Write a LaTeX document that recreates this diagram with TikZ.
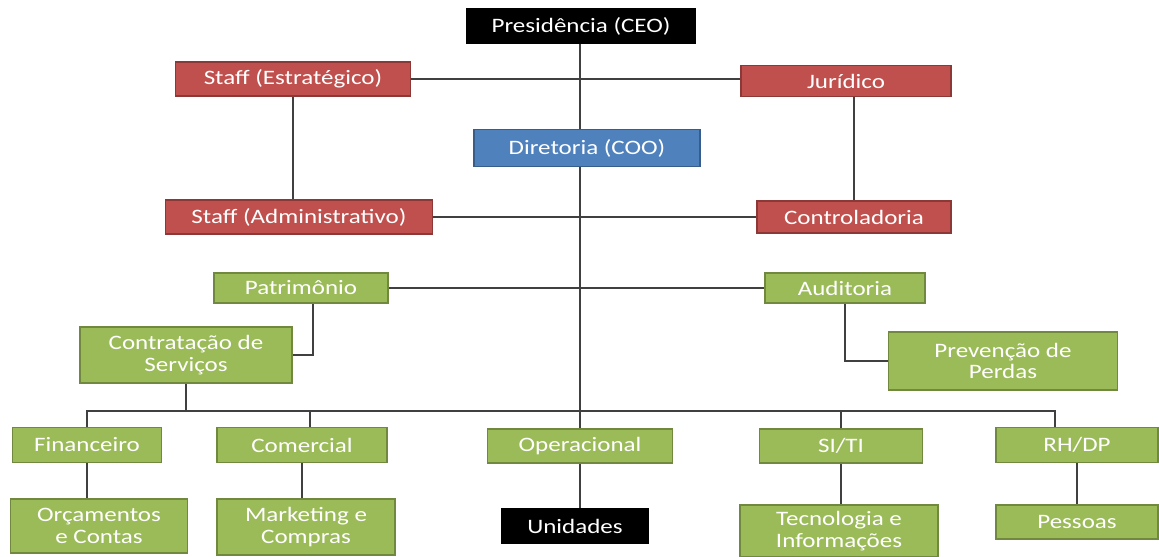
\documentclass[tikz,border=0pt]{standalone}
\usepackage{fontspec}
\setmainfont{Carlito}[FakeStretch=1.22]
\usepackage{tikz}
\usetikzlibrary{positioning, calc}
\usepackage{xcolor}
\definecolor{topcolor}{RGB}{0,0,0}
\definecolor{staffcolor}{RGB}{192,80,77}
\definecolor{staffline}{RGB}{140,56,54}
\definecolor{dircolor}{RGB}{79,129,189}
\definecolor{dirline}{RGB}{56,93,138}
\definecolor{unitcolor}{RGB}{155,187,89}
\definecolor{unitline}{RGB}{113,137,63}
\definecolor{linkcolor}{RGB}{64,64,64}

\begin{document}
\begin{tikzpicture}[x=0.03cm, y=-0.03cm,
    box/.style={rectangle, line width=1.4pt, align=center, text=white, inner sep=1pt, font=\fontsize{17.5}{18.5}\selectfont},
    black box/.style={box, fill=topcolor, draw=topcolor},
    red box/.style={box, fill=staffcolor, draw=staffline},
    blue box/.style={box, fill=dircolor, draw=dirline},
    green box/.style={box, fill=unitcolor, draw=unitline},
    link/.style={draw=linkcolor, line width=1.2pt}
]
\useasboundingbox (0,0) rectangle (1159,556);

\node[black box, minimum width=6.84cm, minimum height=1.02cm] (ceo) at (581,26) {Presidência (CEO)};
\node[red box, minimum width=7.05cm, minimum height=1.02cm] (staffE) at (293,79) {Staff (Estratégico)};
\node[red box, minimum width=6.3cm, minimum height=0.93cm] (jur) at (846,81) {Jurídico};
\node[blue box, minimum width=6.78cm, minimum height=1.11cm] (coo) at (587,148) {Diretoria (COO)};
\node[red box, minimum width=8.01cm, minimum height=1.02cm] (staffA) at (299,217) {Staff (Administrativo)};
\node[red box, minimum width=5.82cm, minimum height=0.96cm] (ctrl) at (854,217) {Controladoria};

\node[green box, minimum width=5.22cm, minimum height=0.9cm] (patr) at (301,288) {Patrimônio};
\node[green box, minimum width=4.8cm, minimum height=0.9cm] (aud) at (845,288) {Auditoria};
\node[green box, minimum width=6.36cm, minimum height=1.68cm] (contr) at (186,355) {Contratação de\\Serviços};
\node[green box, minimum width=6.87cm, minimum height=1.74cm] (prev) at (1003,361) {Prevenção de\\Perdas};

\node[green box, minimum width=4.47cm, minimum height=1.05cm] (fin) at (87,445) {Financeiro};
\node[green box, minimum width=5.1cm, minimum height=1.05cm] (com) at (302,445) {Comercial};
\node[green box, minimum width=5.55cm, minimum height=1.02cm] (oper) at (580,446) {Operacional};
\node[green box, minimum width=4.89cm, minimum height=1.02cm] (siti) at (841,446) {SI/TI};
\node[green box, minimum width=4.86cm, minimum height=1.05cm] (rhdp) at (1077,445) {RH/DP};

\node[green box, minimum width=5.31cm, minimum height=1.62cm] (orc) at (99,526) {Orçamentos\\e Contas};
\node[green box, minimum width=5.34cm, minimum height=1.68cm] (mkt) at (306,527) {Marketing e\\Compras};
\node[black box, minimum width=4.41cm, minimum height=1.02cm] (unid) at (575,526) {Unidades};
\node[green box, minimum width=5.94cm, minimum height=1.56cm] (tec) at (839,531) {Tecnologia e\\Informações};
\node[green box, minimum width=4.86cm, minimum height=1.02cm] (pes) at (1077,522) {Pessoas};

\coordinate (bus) at (0,411);

\draw[link] (oper.north |- ceo.south) -- (oper.north |- coo.north);
\draw[link] (staffE.east) -- (staffE.east -| jur.west);
\draw[link] (staffE.south) -- (staffE.south |- staffA.north);
\draw[link] (ctrl.north |- jur.south) -- (ctrl.north);
\draw[link] (staffA.east) -- (ctrl.west);
\draw[link] (oper.north |- coo.south) -- (oper.north);
\draw[link] (patr.east) -- (aud.west);
\draw[link] ([xshift=0.36cm]patr.south) |- (contr.east);
\draw[link] (aud.south) |- (prev.west);
\draw[link] (contr.south) -- (contr.south |- bus);
\draw[link] (fin.north) |- ([xshift=-0.66cm]bus -| rhdp.north) -- ([xshift=-0.66cm]rhdp.north);
\draw[link] ([xshift=0.24cm]com.north) -- ([xshift=0.24cm]com.north |- bus);
\draw[link] (siti.north) -- (siti.north |- bus);
\draw[link] (fin.south) -- (fin.south |- orc.north);
\draw[link] (com.south) -- (com.south |- mkt.north);
\draw[link] (oper.south) -- (oper.south |- unid.north);
\draw[link] (siti.south) -- (siti.south |- tec.north);
\draw[link] (rhdp.south) -- (pes.north);
\end{tikzpicture}
\end{document}
